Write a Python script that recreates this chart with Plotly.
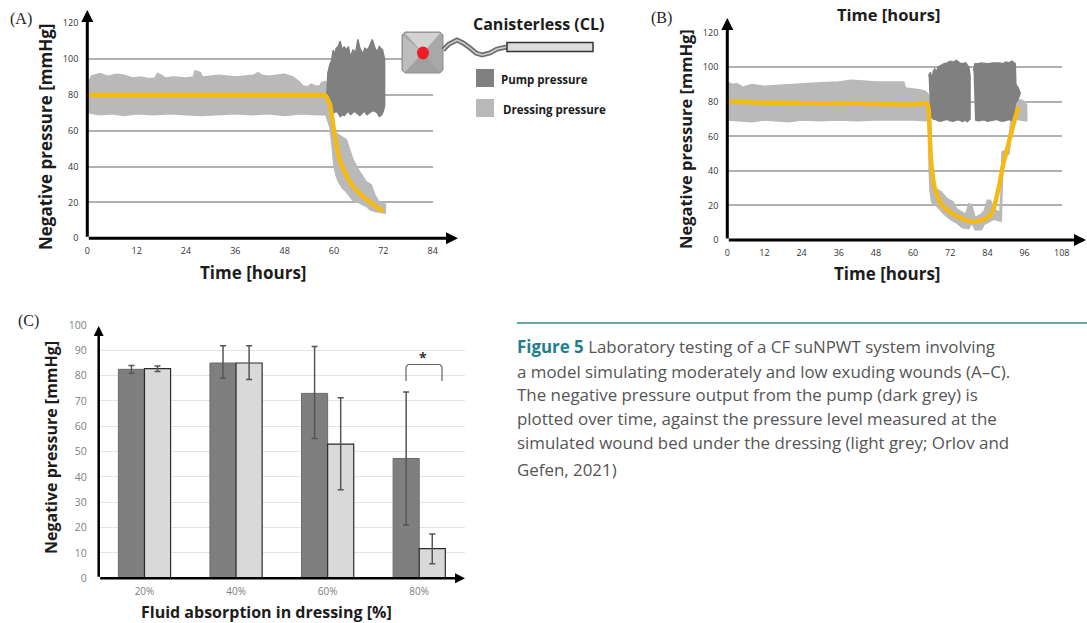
import plotly.graph_objects as go

W, H = 1087, 623
def X(p): return p / W
def Y(p): return 1 - p / H

# ---------- Panel A data ----------
a_time_ticks = [0, 12, 24, 36, 48, 60, 72, 84]
a_dress_up_t = [0, 0.5, 1, 3, 5, 7, 9, 11, 13, 15, 16.5, 17, 18, 19, 21, 24, 25.8, 26.2, 27.5, 28, 32, 36, 40.5, 41.5, 42.5, 44, 48, 50, 51.5, 52.5, 53.5, 54.5, 55.5, 56.5, 57, 58, 59, 59.8, 61, 63, 64.6, 66, 67.8, 69, 70, 71, 72.5]
a_dress_up = [80, 88, 90.5, 92, 90.5, 91.5, 91, 89.5, 90, 89, 89.5, 92, 91, 89.5, 90, 89.5, 90, 93.5, 92.5, 90, 91, 90, 91, 92.5, 91, 90.5, 91.5, 90, 87.5, 85, 84.5, 86, 85, 85, 87, 87.5, 80, 60, 58, 55, 44, 38, 31.6, 30, 24, 20, 19]
a_dress_lo_t = [0, 0.5, 3, 6, 9, 12, 16, 20, 24, 28, 32, 36, 40, 44, 48, 52, 56, 58, 59, 59.5, 60, 60.5, 61, 62, 63, 64.6, 66, 68, 68.7, 70, 72.5]
a_dress_lo = [76, 70, 69, 69.5, 68.5, 69.5, 69, 69.5, 69, 68.5, 69, 69.5, 69, 69.5, 68.5, 69.5, 69, 69, 62, 52, 40, 35, 32, 28, 26, 21, 20, 17.5, 16, 15, 14]
a_pump_up_t = [58.2, 58.5, 59, 59.4, 59.8, 60.2, 60.5, 61, 61.5, 62, 62.5, 63, 63.5, 64, 64.6, 65.3, 65.8, 66.3, 67, 67.5, 68, 68.6, 69.3, 70, 70.5, 71, 71.8, 72.3]
a_pump_up = [78, 92, 97, 99, 105, 102, 106, 107, 110, 105, 107, 105, 107, 101, 105, 104, 111, 106, 103, 106, 105, 107, 111, 106, 104, 107, 105, 100]
a_pump_lo_t = [72.3, 72, 71.6, 71, 70.5, 70, 69.2, 68.6, 68, 67.4, 67, 66.3, 65.5, 65, 64, 63.5, 63, 62.5, 62, 61.5, 61, 60.5, 60, 59.5, 59]
a_pump_lo = [74, 71, 69, 68, 70, 71, 71, 70, 69, 71, 70, 68.5, 70, 71, 69, 71, 70, 68.5, 69, 68, 70, 71, 70, 72, 76]
a_mean_t = [0, 12, 24, 36, 48, 57, 58, 59, 59.5, 60, 60.5, 61, 62, 63, 64, 65, 66, 68, 70, 71, 72]
a_mean = [80, 80, 80, 80, 80, 80, 79.5, 75, 68, 60, 53, 47, 40, 35, 31, 28, 25.5, 21.5, 18, 16.5, 15]

# ---------- Panel B data ----------
b_time_ticks = [0, 12, 24, 36, 48, 60, 72, 84, 96, 108]
b_dress_up_t = [0, 0.3, 2, 3, 5, 8, 12, 16, 20, 24, 30, 36, 40, 44, 48, 52, 57, 57.5, 62, 64, 65, 65.5, 66, 66.5, 67, 69, 71, 73, 74, 76, 77, 78, 79, 80, 82, 83, 84, 85, 86, 87, 88, 88.5, 88.7, 90, 91, 92, 93, 95, 96, 96.7]
b_dress_up = [80, 91, 90, 90.5, 88.5, 90, 89, 89.5, 90, 90.5, 91, 91.5, 92.5, 92, 91.5, 91.5, 91.5, 88, 87, 86, 84, 80, 50, 35, 30, 28, 24, 22, 18, 16, 15, 21, 20, 13, 15, 17, 23, 23, 18, 17, 16, 30, 51, 52, 60, 75, 81, 81, 80, 78]
b_dress_lo_t = [0, 0.3, 4, 8, 12, 16, 20, 24, 30, 36, 42, 48, 54, 60, 65, 65.2, 65.5, 66, 68, 70, 72, 74, 76, 78, 79, 80, 82, 83, 84, 85, 86, 88, 88.5, 89, 91, 92, 93, 96.7]
b_dress_lo = [75, 69.5, 69, 68.5, 69.5, 69, 68.5, 69.5, 69, 69.5, 69, 69.5, 69.5, 69.5, 69, 40, 28, 22, 19, 15, 12, 10, 7, 6.5, 10, 6, 6, 9, 10, 11, 12, 11, 11, 47, 50, 68, 70, 69]
b_pump1_up_t = [65, 65.6, 66, 66.6, 67, 67.6, 68, 69, 70, 71, 72, 73, 74, 75, 76, 77, 78, 78.4]
b_pump1_up = [95, 97, 93, 98, 99, 97, 100, 101, 102, 102.5, 103.5, 103, 104, 102.5, 102, 102.5, 100, 95]
b_pump1_lo_t = [78.4, 77.5, 76.5, 76, 75, 74, 73, 72, 71, 70, 69, 68, 67.2, 66.5, 65.5]
b_pump1_lo = [70, 68.5, 69.5, 68.5, 69.5, 69.5, 68.8, 69, 69.8, 69.5, 68.8, 69, 69.8, 70, 72]
b_pump2_up_t = [79.5, 80, 81, 82, 84, 86, 88, 89, 90, 91, 92, 93, 93.2, 94, 94.6, 93.8, 93]
b_pump2_up = [98, 102, 102, 102.5, 102, 102.5, 102.5, 102, 103, 102.5, 103.5, 102, 90, 88, 85, 81, 79]
b_pump2_lo_t = [92.5, 91, 90, 89, 88, 87, 86, 85, 84, 83, 82, 81, 80]
b_pump2_lo = [69, 69.8, 69.5, 68.8, 69, 69.8, 69.5, 69, 68.8, 69.6, 69.5, 69, 69.6]
b_mean_t = [0, 12, 36, 60, 63, 64.5, 65, 65.3, 65.6, 66, 66.5, 67, 68, 69, 70, 72, 75, 77, 79, 81, 83, 85, 86, 87, 88, 89, 90, 91, 92, 93, 94]
b_mean = [80, 79.5, 79, 78.5, 79, 79, 76, 65, 50, 42, 35, 30, 25, 21, 19, 16, 13, 11.5, 10.5, 11, 12, 14.5, 18, 25, 33, 43, 50, 57, 64, 71, 77]

# ---------- Panel C data ----------
c_categories = ["20%", "40%", "60%", "80%"]
c_pump = [82.5, 85, 73, 47.3]
c_pump_plus = [1.5, 6.8, 18.5, 26.2]
c_pump_minus = [1.5, 6, 17.8, 26.3]
c_dress = [82.8, 85, 53, 11.7]
c_dress_plus = [1, 6.8, 18.3, 5.8]
c_dress_minus = [1.2, 6.5, 18, 6]

# ---------- Text ----------
caption_lines = [
    "<b><span style='color:#1f7f8e'>Figure 5</span></b> Laboratory testing of a CF suNPWT system involving",
    "a model simulating moderately and low exuding wounds (A\u2013C).",
    "The negative pressure output from the pump (dark grey) is",
    "plotted over time, against the pressure level measured at the",
    "simulated wound bed under the dressing (light grey; Orlov and",
    "Gefen, 2021)",
]
caption_y = [346.5, 371.5, 394.5, 418.5, 442.5, 469.5]

LIGHT = "#b9b9b9"
DARK = "#808080"
GOLD = "#f5b914"

fig = go.Figure()

def band(tu, u, tl, l, color, xa, ya, name):
    fig.add_trace(go.Scatter(x=tu + tl, y=u + l, fill="toself", mode="lines",
                             line=dict(color=color, width=1.5), fillcolor=color,
                             xaxis=xa, yaxis=ya, name=name, showlegend=False, hoverinfo="skip"))

def mean(t, v, xa, ya):
    fig.add_trace(go.Scatter(x=t, y=v, mode="lines", line=dict(color=GOLD, width=4.5, shape="spline", smoothing=0.3),
                             xaxis=xa, yaxis=ya, name="Mean", showlegend=False, hoverinfo="skip"))

# A
band(a_dress_up_t, a_dress_up, a_dress_lo_t[::-1], a_dress_lo[::-1], LIGHT, "x", "y", "Dressing pressure")
band(a_pump_up_t, a_pump_up, a_pump_lo_t, a_pump_lo, DARK, "x", "y", "Pump pressure")
mean(a_mean_t, a_mean, "x", "y")
# B
band(b_dress_up_t, b_dress_up, b_dress_lo_t[::-1], b_dress_lo[::-1], LIGHT, "x2", "y2", "Dressing pressure")
band(b_pump1_up_t, b_pump1_up, b_pump1_lo_t, b_pump1_lo, DARK, "x2", "y2", "Pump pressure")
band(b_pump2_up_t, b_pump2_up, b_pump2_lo_t, b_pump2_lo, DARK, "x2", "y2", "Pump pressure")
mean(b_mean_t, b_mean, "x2", "y2")
# C
err = dict(type="data", symmetric=False, color="#555555", thickness=1.5, width=3)
fig.add_trace(go.Bar(x=c_categories, y=c_pump, xaxis="x3", yaxis="y3", name="Pump pressure",
                     marker=dict(color="#7f7f7f", line=dict(color="#6a6a6a", width=1)),
                     error_y=dict(err, array=c_pump_plus, arrayminus=c_pump_minus), showlegend=False))
fig.add_trace(go.Bar(x=c_categories, y=c_dress, xaxis="x3", yaxis="y3", name="Dressing pressure",
                     marker=dict(color="#d9d9d9", line=dict(color="#2b2b2b", width=1.2)),
                     error_y=dict(err, array=c_dress_plus, arrayminus=c_dress_minus), showlegend=False))

def time_axis(domain, rng, ticks, anchor, standoff=6):
    return dict(domain=[X(domain[0]), X(domain[1])], range=rng, tickvals=ticks, anchor=anchor, automargin=False,
                showgrid=False, zeroline=False, ticks="", showline=False, ticklabelstandoff=standoff,
                tickfont=dict(family="Open Sans", size=9, color="#333333"))

def press_axis(domain, rng, dtick, anchor, grid="#b0b0b0", standoff=8, font=None, gw=1.5):
    return dict(domain=[Y(domain[1]), Y(domain[0])], range=rng, dtick=dtick, anchor=anchor, automargin=False,
                showgrid=True, gridcolor=grid, gridwidth=gw, zeroline=False, ticks="", showline=False,
                ticklabelstandoff=standoff,
                tickfont=font or dict(family="Open Sans", size=9, color="#333333"))

layout = dict(
    width=W, height=H, margin=dict(l=0, r=0, t=0, b=0, autoexpand=False), autosize=False,
    paper_bgcolor="white", plot_bgcolor="white", showlegend=False,
    barmode="group", bargap=0.43, bargroupgap=0,
    xaxis=time_axis((87.3, 432.7), [0, 84], a_time_ticks, "y"),
    yaxis=press_axis((23.3, 238.3), [0, 120], 20, "x"),
    xaxis2=time_axis((727.3, 1061.7), [0, 108], b_time_ticks, "y2"),
    yaxis2=press_axis((32.7, 240), [0, 120], 20, "x2"),
    xaxis3=dict(domain=[X(98.7), X(465)], anchor="y3", ticks="", showline=False, ticklabelstandoff=6, automargin=False,
                tickfont=dict(family="Open Sans", size=10, color="#808080")),
    yaxis3=press_axis((325, 578.3), [0, 100], 10, "x3", grid="#e4e4e4", standoff=11,
                      font=dict(family="Open Sans", size=10.5, color="#808080"), gw=1),
)
fig.update_layout(**layout)

# ---------- Axis arrows ----------
anns = []
def arrow(x0, y0, x1, y1, width=3):
    anns.append(dict(x=X(x1), y=Y(y1), xref="paper", yref="paper", ax=x0 - x1, ay=y0 - y1,
                     axref="pixel", ayref="pixel", showarrow=True, arrowhead=2, arrowsize=0.8,
                     arrowwidth=width, arrowcolor="#000000", text=""))
arrow(87.3, 238.3, 87.3, 10); arrow(87.3, 238.3, 458, 238.3)
arrow(727.3, 240, 727.3, 18); arrow(727.3, 240, 1086, 240)
arrow(98.7, 578.3, 98.7, 326, 2.5); arrow(98.7, 578.3, 465, 578.3, 2.5)

def text(x, y, s, size, family="Open Sans", color="#1c1c1c", anchor="left", angle=0):
    anns.append(dict(x=X(x), y=Y(y), xref="paper", yref="paper", text=s, showarrow=False,
                     xanchor=anchor, yanchor="middle", align="left", textangle=angle,
                     font=dict(family=family, size=size, color=color)))

text(8, 19, "(A)", 16, "Liberation Serif")
text(649, 18, "(B)", 16, "Liberation Serif")
text(16, 321, "(C)", 16, "Liberation Serif")
text(888, 14, "<b>Time [hours]</b>", 16.5, anchor="center")
text(253, 272, "<b>Time [hours]</b>", 17, anchor="center")
text(887, 273, "<b>Time [hours]</b>", 17, anchor="center")
text(266, 612, "<b>Fluid absorption in dressing [%]</b>", 16, anchor="center")
text(45, 137, "<b>Negative pressure [mmHg]</b>", 17, anchor="center", angle=-90)
text(685, 139, "<b>Negative pressure [mmHg]</b>", 16.5, anchor="center", angle=-90)
text(51, 448, "<b>Negative pressure [mmHg]</b>", 16, anchor="center", angle=-90)
text(471, 24, "<b>Canisterless (CL)</b>", 16)
text(498.5, 79, "<b>Pump pressure</b>", 11.5)
text(500.5, 109, "<b>Dressing pressure</b>", 11.5)
text(423, 357, "<b>*</b>", 14, anchor="center", color="#333333")
for line, y in zip(caption_lines, caption_y):
    text(515, y, line, 16.9, family="Open Sans", color="#555555")
fig.update_layout(annotations=anns)

# ---------- Decorations ----------
shapes = []
def path(points, fill=None, line=None, lw=0, close=True):
    d = "M" + " L".join(f"{X(a):.5f},{Y(b):.5f}" for a, b in points) + (" Z" if close else "")
    shapes.append(dict(type="path", xref="paper", yref="paper", path=d,
                       fillcolor=fill or "rgba(0,0,0,0)", line=dict(color=line or "rgba(0,0,0,0)", width=lw)))
def rect(x0, y0, x1, y1, fill, line=None, lw=0):
    shapes.append(dict(type="rect", xref="paper", yref="paper", x0=X(x0), x1=X(x1), y0=Y(y0), y1=Y(y1),
                       fillcolor=fill, line=dict(color=line or fill, width=lw)))

rect(476, 69, 494, 87, DARK)
rect(476, 99, 494, 117, LIGHT)
shapes.append(dict(type="line", xref="paper", yref="paper", x0=X(517), x1=1, y0=Y(323), y1=Y(323),
                   line=dict(color="#3a8490", width=1.5)))
path([(405, 32), (440, 32), (443, 35), (443, 70), (440, 73), (405, 73), (402, 70), (402, 35)], "#a8a8a8", "#8a8a8a", 1)
path([(405, 33), (440, 33), (423, 53)], "#d2d2d2")
path([(403, 36), (423, 53), (405, 72), (403, 70)], "#bdbdbd")
path([(405, 72), (423, 53), (440, 72)], "#a0a0a0")
shapes.append(dict(type="circle", xref="paper", yref="paper", x0=X(417), x1=X(429), y0=Y(59.5), y1=Y(46.5),
                   fillcolor="#ee1c25", line=dict(color="#ee1c25", width=0)))
tube = [(443, 50), (449, 44), (457, 40), (463, 43), (470, 48), (476, 53), (482, 55), (490, 53), (497, 49), (507, 47)]
path(tube, None, "#6f6f6f", 5, close=False)
path(tube, None, "#d0d0d0", 1.5, close=False)
rect(507, 42.5, 593, 51.5, "#dcdcdc", "#333333", 1.5)
path([(406, 381), (406, 367), (408, 364.5), (440, 364.5), (442, 367), (442, 381)], None, "#666666", 1.2, close=False)
fig.update_layout(shapes=shapes)

fig.write_html("out.html", config=dict(displayModeBar=False),
               post_script="document.documentElement.style.overflow='hidden';document.body.style.margin='0';document.body.style.overflow='hidden';")
